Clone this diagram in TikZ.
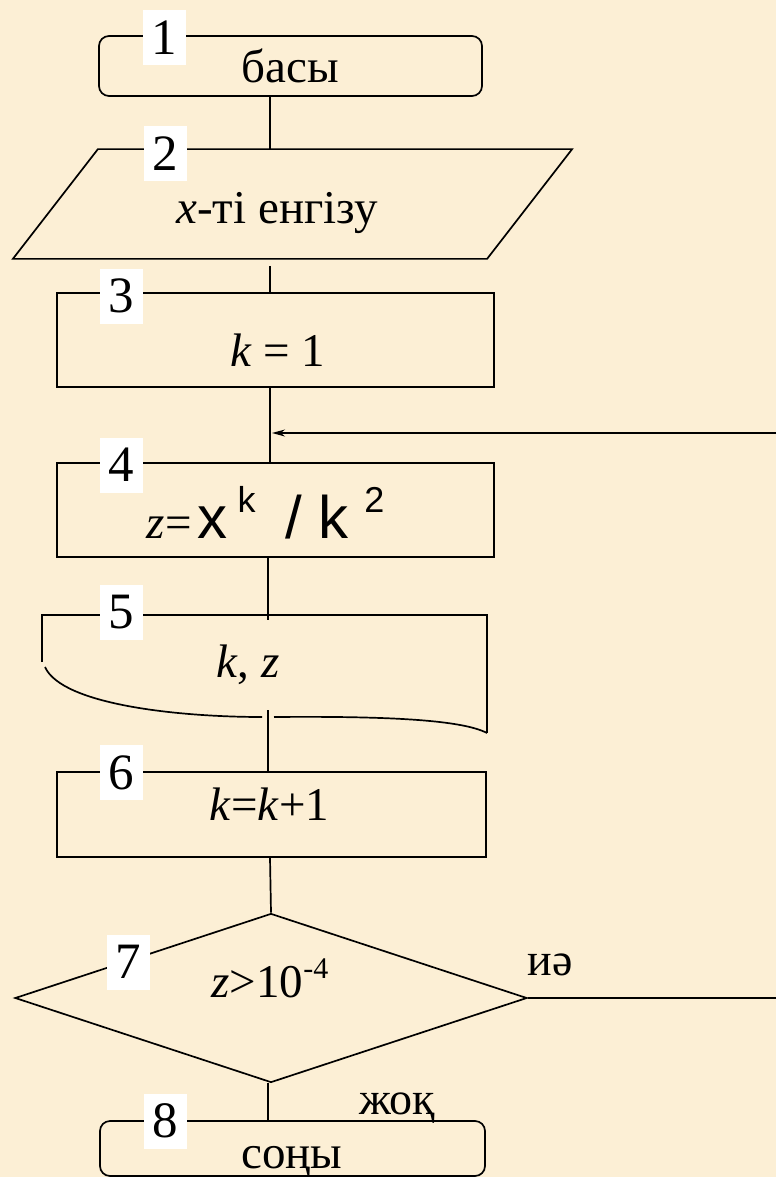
\documentclass[tikz,border=0pt]{standalone}
\usepackage{fontspec}
\setmainfont{Liberation Serif}
\setsansfont{Liberation Sans}
\usepackage{xcolor}
\usetikzlibrary{arrows.meta,calc,shapes.geometric}
\definecolor{parch}{RGB}{252,239,213}

\begin{document}
\begin{tikzpicture}[x=1pt,y=-1pt,line width=1.7pt,
  txt/.style={font=\fontsize{47}{50}\selectfont,inner sep=0pt,anchor=base},
  blk/.style={draw,inner sep=0pt,minimum width=437pt,minimum height=94pt},
  term/.style={draw,rounded corners=10pt,inner sep=0pt,minimum width=383pt,minimum height=60pt},
  num/.style={fill=white,inner sep=0pt,minimum width=43pt,minimum height=55pt,font=\fontsize{51}{51}\selectfont}]
\fill[parch] (0,0) rectangle (776,1177);
\useasboundingbox (0,0) rectangle (776,1177);
\coordinate (spine) at (270,0);
\coordinate (loopR) at (776,433);
% blocks
\node[term] (start) at (290.5,66) {};
\node[txt] (tstart) at (290,83) {басы};
\node[inner sep=0pt,minimum width=472.5pt,minimum height=108pt] (inp) at (292.5,204) {};
\draw ([xshift=42.5pt]inp.north west) -- ([xshift=42.5pt]inp.north east) -- ([xshift=-42.5pt]inp.south east) -- ([xshift=-42.5pt]inp.south west) -- cycle;
\node[txt] (tinp) at (277,223) {\textit{x}-ті енгізу};
\node[blk] (init) at (275.5,340) {};
\node[txt] (tinit) at (278,366) {\textit{k} = 1};
\node[blk] (calc) at (275.5,510) {};
\node[txt,anchor=base west] (tcalc) at (146,538) {\textit{z}=\hspace{6pt}{\sffamily\fontsize{60}{60}\selectfont x\hspace{10pt}\raisebox{26pt}{\fontsize{36}{36}\selectfont k}\hspace{30pt}/\hspace{16pt}k\hspace{16pt}\raisebox{26pt}{\fontsize{36}{36}\selectfont 2}}};
\node[inner sep=0pt,minimum width=445pt,minimum height=118pt] (outp) at (264.5,674) {};
\draw (42,662) |- (487,615) -- (487,733);
\draw (45,667) .. controls (62,705) and (180,717) .. (262,717);
\draw (274,717) .. controls (390,716) and (462,720) .. (487,733);
\node[txt] (toutp) at (248,677) {\textit{k}, \textit{z}};
\node[draw,inner sep=0pt,minimum width=429pt,minimum height=85pt] (inc) at (271.5,814.5) {};
\node[txt] (tinc) at (269.5,820) {\textit{k}=\textit{k}+1};
\node[draw,diamond,inner sep=0pt,minimum width=512pt,minimum height=169pt] (cond) at (271,998) {};
\node[txt] (tcond) at (270,997) {\textit{z}>10\raisebox{19pt}{\fontsize{30}{30}\selectfont -4}};
\node[term,minimum width=385pt,minimum height=55pt] (stop) at (292.5,1148.5) {};
\node[txt] (tstop) at (292,1168) {соңы};
% connectors
\coordinate (o5top) at (268,620);
\coordinate (o5bot) at (268,710);
\draw (start.south -| spine) -- (inp.north -| spine);
\draw[shorten <=7pt] (inp.south -| spine) -- (init.north -| spine);
\draw (init.south -| spine) -- (calc.north -| spine);
\draw (calc.south -| o5top) -- (o5top);
\draw (o5bot) -- (inc.north -| o5bot);
\draw (inc.south -| spine) -- (cond.north);
\draw (cond.south -| o5top) -- (stop.north -| o5top);
\draw (cond.east) -- (cond.east -| loopR);
\draw[line width=1.3pt,-{Stealth[length=13pt,width=7pt]}] (loopR) -- ([xshift=2pt]loopR -| spine);
\node[txt,font=\fontsize{46}{48}\selectfont] (yes) at (550,975) {иә};
\node[txt,font=\fontsize{46}{48}\selectfont] (no) at (397,1114) {жоқ};
% numbers
\node[num] (n1) at (164.5,38) {1};
\node[num] (n2) at (165.5,154) {2};
\node[num] (n3) at (121.5,296) {3};
\node[num] (n4) at (121.5,465) {4};
\node[num] (n5) at (121.5,612) {5};
\node[num] (n6) at (121.5,772.5) {6};
\node[num] (n7) at (128.5,962) {7};
\node[num] (n8) at (165.5,1121) {8};
\end{tikzpicture}
\end{document}
